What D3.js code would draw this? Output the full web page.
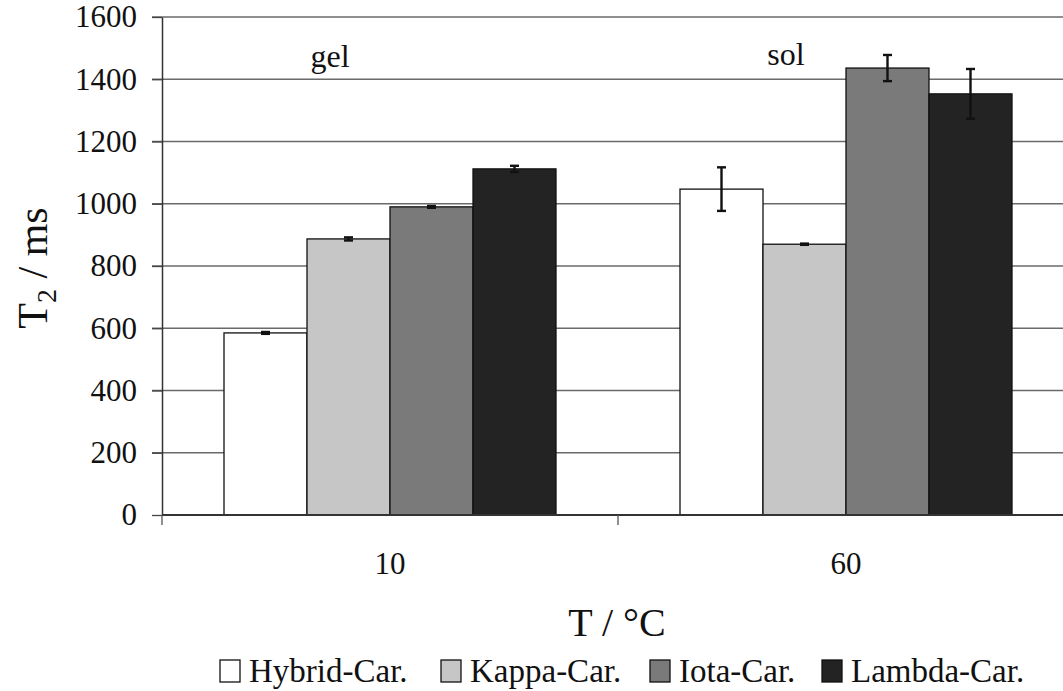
<!DOCTYPE html>
<html>
<head>
<meta charset="utf-8">
<script src="https://cdn.jsdelivr.net/npm/d3@7"></script>
<style>
  body { margin: 0; background: #fff; }
</style>
</head>
<body>
<script>
// chart data
var temps = ['10', '60'];
var series = ['Hybrid-Car.', 'Kappa-Car.', 'Iota-Car.', 'Lambda-Car.'];
var colors = ['#ffffff', '#c6c6c6', '#7a7a7a', '#232323'];
var values10 = [585, 887, 990, 1112];
var values60 = [1047, 870, 1436, 1353];
var errors10 = [3, 5, 3, 10];
var errors60 = [70, 2, 42, 80];
var phaseLabels = ['gel', 'sol'];
var yTicks = [0, 200, 400, 600, 800, 1000, 1200, 1400, 1600];

var W = 1063, H = 691;
var plotLeft = 162, plotTop = 17, plotBottom = 515, plotRight = 1074;
var FONT = 'Liberation Serif';

var svg = d3.select('body').append('svg')
    .attr('width', W)
    .attr('height', H)
    .style('font-family', FONT);

var y = d3.scaleLinear().domain([0, 1600]).range([plotBottom, plotTop]);
var x0 = d3.scaleBand().domain(temps).range([plotLeft, plotRight]);
var x1 = d3.scaleBand().domain(series).range([62, x0.bandwidth() - 62]);

// grid lines
svg.append('g').selectAll('line')
    .data(yTicks.filter(function(d){ return d > 0; }))
    .enter().append('line')
    .attr('x1', plotLeft - 10).attr('x2', W)
    .attr('y1', function(d){ return y(d); })
    .attr('y2', function(d){ return y(d); })
    .style('stroke', '#6a6a6a')
    .style('stroke-width', 1.3);

// y axis
var yAxis = d3.axisLeft(y).tickValues(yTicks).tickFormat(d3.format('d'))
    .tickSize(10).tickPadding(15).tickSizeOuter(0);
var gy = svg.append('g').attr('transform', 'translate(' + plotLeft + ',0)').call(yAxis)
    .attr('font-family', FONT).attr('font-size', 31);
gy.select('.domain').style('stroke', '#333').style('stroke-width', 1.5);
gy.selectAll('.tick line').style('stroke', '#444').style('stroke-width', 1.3);
gy.selectAll('text').style('font-family', FONT).style('font-size', '31px').style('fill', '#111');

// bars
var rows = temps.map(function(t, i){
    var v = i === 0 ? values10 : values60;
    var e = i === 0 ? errors10 : errors60;
    return series.map(function(s, j){ return {temp: t, s: s, v: v[j], e: e[j], c: colors[j]}; });
});

var groups = svg.append('g').selectAll('g')
    .data(rows)
    .enter().append('g')
    .attr('transform', function(d, i){ return 'translate(' + x0(temps[i]) + ',0)'; });

groups.selectAll('rect')
    .data(function(d){ return d; })
    .enter().append('rect')
    .attr('x', function(d){ return x1(d.s); })
    .attr('width', x1.bandwidth())
    .attr('y', function(d){ return y(d.v); })
    .attr('height', function(d){ return plotBottom - y(d.v); })
    .style('fill', function(d){ return d.c; })
    .style('stroke', '#111')
    .style('stroke-width', 1.3);

// error bars
var eb = groups.selectAll('.err')
    .data(function(d){ return d; })
    .enter().append('g').attr('class', 'err')
    .style('stroke', '#111')
    .style('stroke-width', 2.4);
eb.append('line')
    .attr('x1', function(d){ return x1(d.s) + x1.bandwidth() / 2; })
    .attr('x2', function(d){ return x1(d.s) + x1.bandwidth() / 2; })
    .attr('y1', function(d){ return y(d.v + d.e); })
    .attr('y2', function(d){ return y(d.v - d.e); });
eb.selectAll('.cap')
    .data(function(d){ return [d.v + d.e, d.v - d.e].map(function(v){ return {s: d.s, v: v}; }); })
    .enter().append('line')
    .attr('x1', function(d){ return x1(d.s) + x1.bandwidth() / 2 - 4.5; })
    .attr('x2', function(d){ return x1(d.s) + x1.bandwidth() / 2 + 4.5; })
    .attr('y1', function(d){ return y(d.v); })
    .attr('y2', function(d){ return y(d.v); });

// x axis
svg.append('line')
    .attr('x1', plotLeft).attr('x2', W)
    .attr('y1', plotBottom).attr('y2', plotBottom)
    .style('stroke', '#333').style('stroke-width', 2);
svg.append('g').selectAll('line')
    .data([plotLeft, x0(temps[1])])
    .enter().append('line')
    .attr('x1', function(d){ return d; }).attr('x2', function(d){ return d; })
    .attr('y1', plotBottom).attr('y2', plotBottom + 10)
    .style('stroke', '#555').style('stroke-width', 1.3);
svg.append('g').selectAll('text')
    .data(temps)
    .enter().append('text')
    .attr('x', function(d){ return x0(d) + x0.bandwidth() / 2; })
    .attr('y', 574)
    .attr('text-anchor', 'middle')
    .style('font-family', FONT)
    .style('font-size', '31px')
    .style('fill', '#111')
    .text(function(d){ return d; });

// phase labels
svg.append('g').selectAll('text')
    .data(phaseLabels)
    .enter().append('text')
    .attr('x', function(d, i){ return [330, 786][i]; })
    .attr('y', function(d, i){ return [67, 65][i]; })
    .attr('text-anchor', 'middle')
    .style('font-family', FONT)
    .style('font-size', '32px')
    .style('fill', '#111')
    .text(function(d){ return d; });

// axis titles
svg.append('text')
    .attr('x', 617).attr('y', 636)
    .attr('text-anchor', 'middle')
    .style('font-family', FONT)
    .style('font-size', '40px')
    .style('fill', '#111')
    .text('T / °C');

var yt = svg.append('text')
    .attr('transform', 'translate(47,268) rotate(-90)')
    .attr('text-anchor', 'middle')
    .style('font-family', FONT)
    .style('font-size', '42px')
    .style('fill', '#111');
yt.append('tspan').text('T');
yt.append('tspan').attr('dy', 9).style('font-size', '28px').text('2');
yt.append('tspan').attr('dy', -9).text(' / ms');

// legend
var legX = [220, 441, 650, 822];
var leg = svg.append('g').selectAll('g')
    .data(series)
    .enter().append('g')
    .attr('transform', function(d, i){ return 'translate(' + legX[i] + ',660)'; });
leg.append('rect')
    .attr('width', 20).attr('height', 22)
    .style('fill', function(d, i){ return colors[i]; })
    .style('stroke', '#111').style('stroke-width', 1.3);
leg.append('text')
    .attr('x', 29).attr('y', 22)
    .style('font-family', FONT)
    .style('font-size', '33px')
    .style('fill', '#111')
    .text(function(d){ return d; });
</script>
</body>
</html>
